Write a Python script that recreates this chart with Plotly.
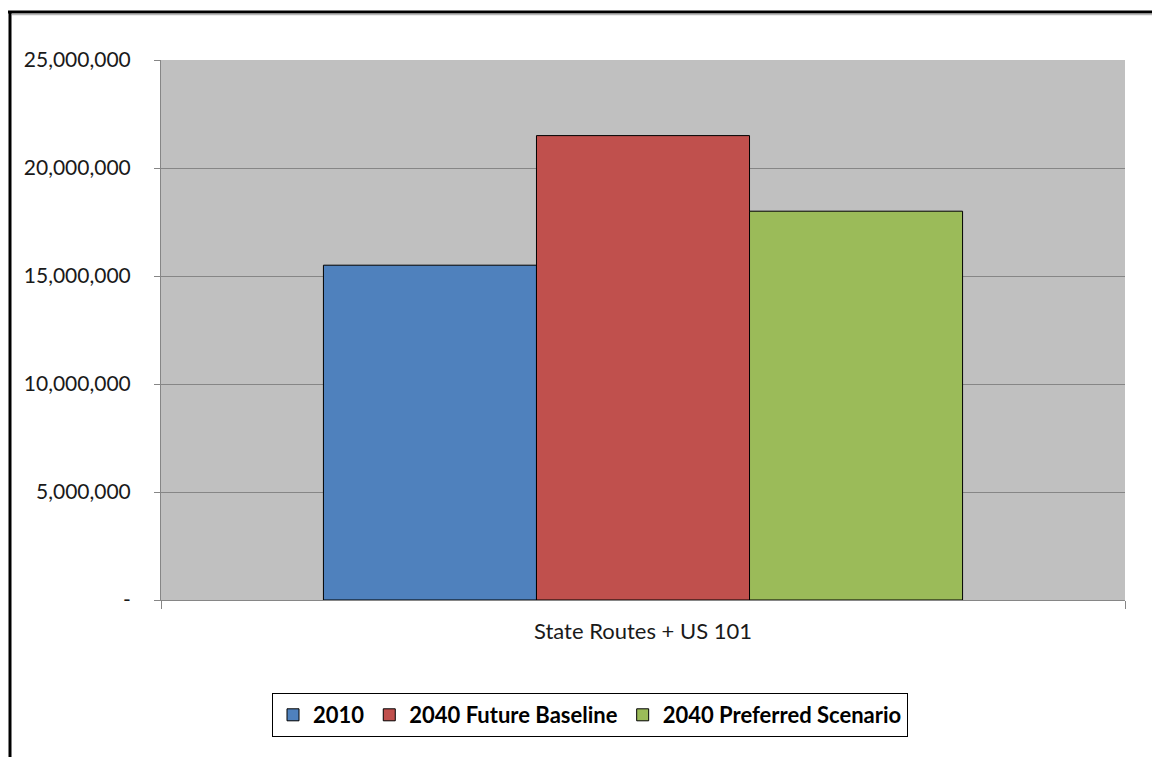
import plotly.graph_objects as go

categories = ["State Routes + US 101"]
series_names = ["2010", "2040 Future Baseline", "2040 Preferred Scenario"]
series_values = [[15_500_000], [21_500_000], [18_000_000]]
series_colors = ["#4F81BD", "#C0504D", "#9BBB59"]
y_tickvals = [0, 5_000_000, 10_000_000, 15_000_000, 20_000_000, 25_000_000]
y_ticktext = ["-", "5,000,000", "10,000,000", "15,000,000", "20,000,000", "25,000,000"]

FONT = "Lato, 'Open Sans', sans-serif"

fig = go.Figure()
for name, vals, col in zip(series_names, series_values, series_colors):
    fig.add_trace(go.Bar(
        x=categories, y=vals, name=name,
        marker=dict(color=col, line=dict(color="#000000", width=1)),
    ))

# page has an 8px body margin; work in page pixels and convert
OFF = 8
W, H = 1160 - OFF, 757 - OFF
L, R, T, B = 161 - OFF, 1160 - 1125, 60 - OFF, 757 - 600
pw, ph = W - L - R, H - T - B

def px_x(p):
    return (p - OFF - L) / pw

def px_y(p):
    return (H - B - (p - OFF)) / ph

fig.update_layout(
    width=W, height=H,
    margin=dict(l=L, r=R, t=T, b=B, pad=0),
    paper_bgcolor="#FFFFFF",
    plot_bgcolor="#C0C0C0",
    barmode="group",
    bargap=0.337,
    bargroupgap=0,
    font=dict(family=FONT, size=20, color="#1a1a1a"),
    showlegend=True,
    legend=dict(
        orientation="h",
        x=px_x(590), xanchor="center",
        y=px_y(693), yanchor="top",
        bordercolor="#000000", borderwidth=1,
        bgcolor="#FFFFFF",
        font=dict(family=FONT, size=22, color="#000000", weight="bold"),
        traceorder="normal",
        tracegroupgap=0,
    ),
    xaxis=dict(
        type="category",
        showgrid=False,
        showline=True, linecolor="#868686", linewidth=1,
        ticks="outside", tickson="boundaries", ticklen=8, tickcolor="#868686",
        tickfont=dict(family=FONT, size=22, color="#1a1a1a"),
        ticklabelstandoff=12,
    ),
    yaxis=dict(
        range=[0, 25_000_000],
        tickvals=y_tickvals, ticktext=y_ticktext,
        showgrid=True, gridcolor="#868686", gridwidth=1,
        showline=True, linecolor="#868686", linewidth=1,
        ticks="outside", ticklen=6, tickcolor="#868686",
        tickfont=dict(family=FONT, size=21, color="#1a1a1a"),
        ticklabelstandoff=19,
        zeroline=False,
    ),
    shapes=[
        dict(type="line", xref="paper", yref="paper",
             x0=px_x(8), x1=px_x(1160), y0=px_y(12), y1=px_y(12),
             line=dict(color="#000000", width=3)),
        dict(type="line", xref="paper", yref="paper",
             x0=px_x(12), x1=px_x(1160), y0=px_y(14.5), y1=px_y(14.5),
             line=dict(color="#B8B8B8", width=1.5)),
        dict(type="line", xref="paper", yref="paper",
             x0=px_x(10), x1=px_x(10), y0=px_y(11), y1=px_y(757),
             line=dict(color="#000000", width=3)),
    ],
)

fig.write_html("out.html")
